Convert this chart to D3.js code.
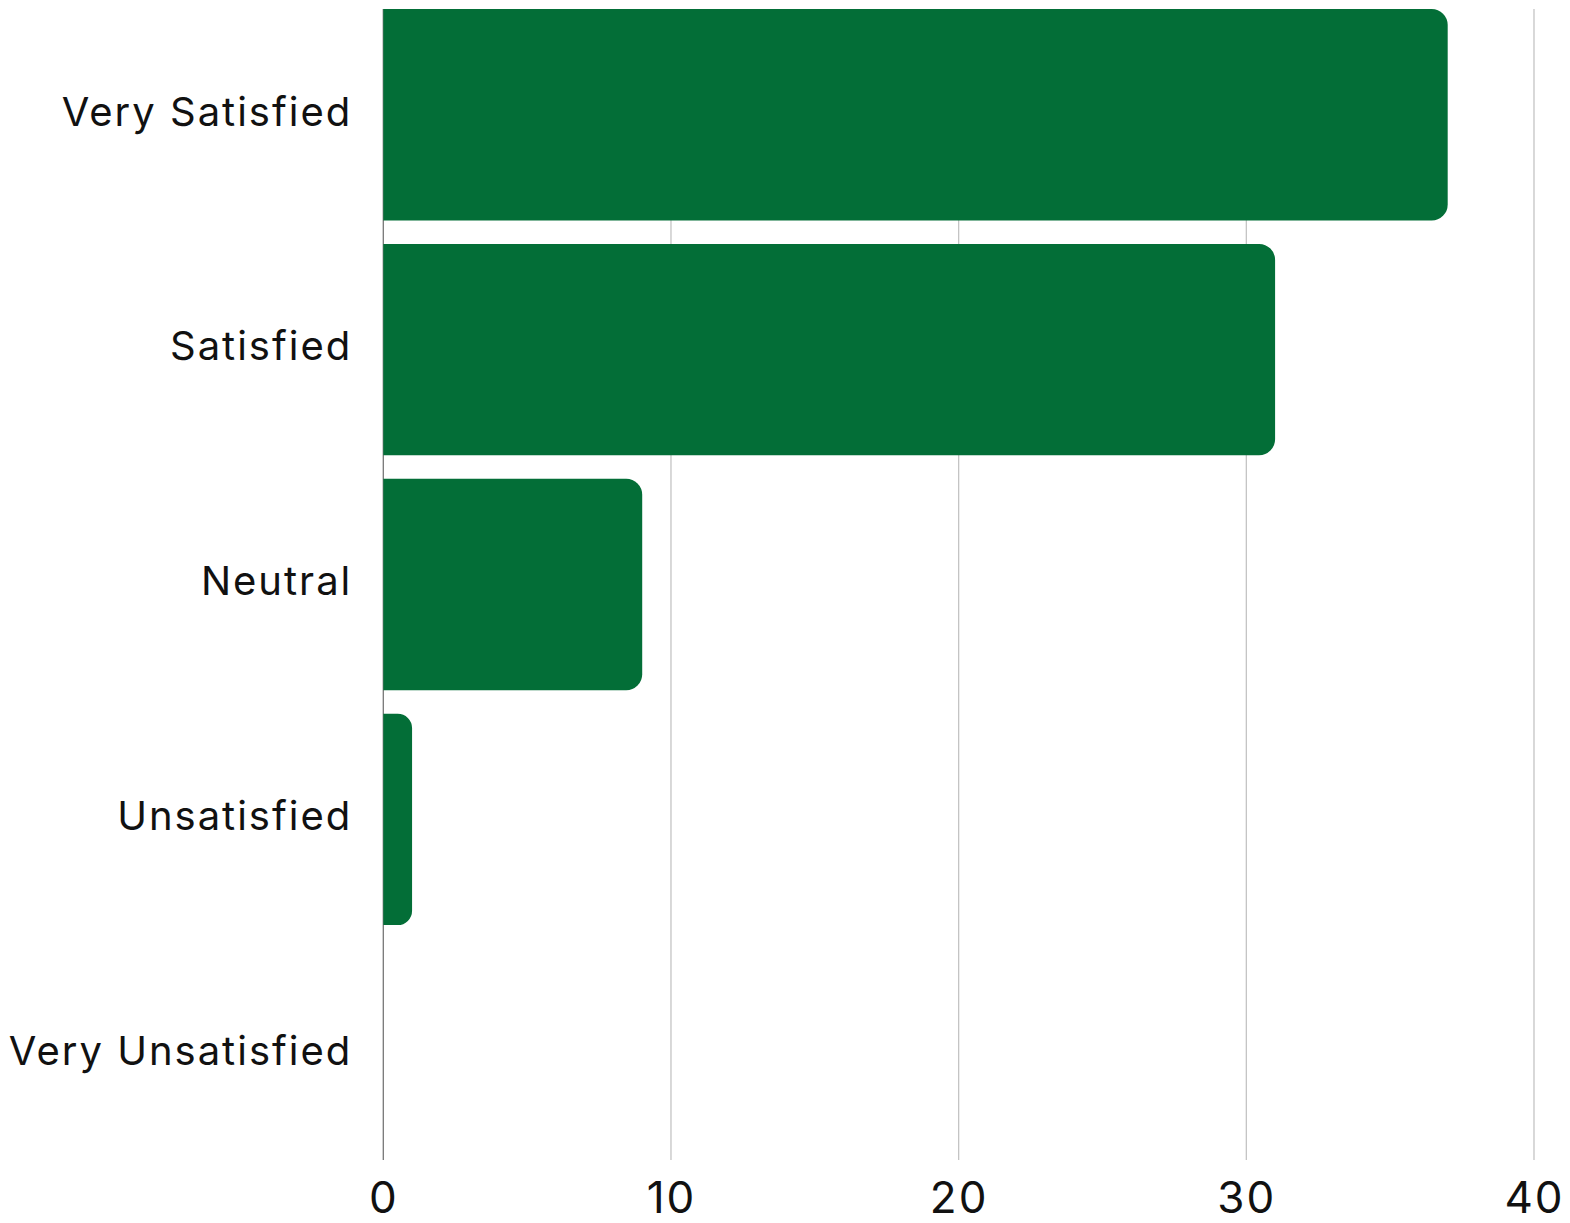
<!DOCTYPE html>
<html><head><meta charset="utf-8">
<script src="https://cdn.jsdelivr.net/npm/d3@7"></script>
<style>html,body{margin:0;padding:0;background:#fff;}svg{display:block;}</style>
</head><body>
<svg id="chart" width="1570" height="1223"></svg>
<script>
const categories = ["Very Satisfied", "Satisfied", "Neutral", "Unsatisfied", "Very Unsatisfied"];
const values = [37, 31, 9, 1, 0];
const xTicks = [0, 10, 20, 30, 40];

const svg = d3.select("#chart");
const margin = {left: 383.3, right: 36, top: 9, bottom: 63};
const W = 1570, H = 1223;
const x = d3.scaleLinear().domain([0, 40]).range([margin.left, W - margin.right]);
const y = d3.scaleBand().domain(categories).range([margin.top, H - margin.bottom]).paddingInner(0.1).paddingOuter(0);
const font = "Inter, 'Noto Sans', sans-serif";

// grid
svg.append("g").selectAll("line").data(xTicks).join("line")
  .attr("x1", d => x(d)).attr("x2", d => x(d))
  .attr("y1", margin.top).attr("y2", H - margin.bottom)
  .attr("stroke", d => d === 0 ? "#777" : "#c4c4c4").attr("stroke-width", 1.3);

// bars: square left, rounded right
const r = 16;
svg.append("g").selectAll("path").data(categories.map((c, i) => ({c, v: values[i]})).filter(d => d.v > 0)).join("path")
  .attr("fill", "#036e37")
  .attr("d", d => {
    const x0 = x(0), x1 = x(d.v), y0 = y(d.c), h = y.bandwidth();
    const rr = Math.min(r, (x1 - x0) / 2, h / 2);
    return `M${x0},${y0}H${x1 - rr}A${rr},${rr} 0 0 1 ${x1},${y0 + rr}V${y0 + h - rr}A${rr},${rr} 0 0 1 ${x1 - rr},${y0 + h}H${x0}Z`;
  });

// y axis labels
const yAxis = d3.axisLeft(y).tickSize(0).tickPadding(31);
const gy = svg.append("g").attr("transform", `translate(${margin.left},0)`).call(yAxis);
gy.select(".domain").remove();
gy.selectAll("text").attr("font-family", font).attr("font-size", 40).attr("letter-spacing", "2px")
  .attr("fill", "#111").attr("dy", "0.27em");

// x axis labels
const xAxis = d3.axisBottom(x).tickValues(xTicks).tickSize(0).tickPadding(22);
const gx = svg.append("g").attr("transform", `translate(0,${H - margin.bottom})`).call(xAxis);
gx.select(".domain").remove();
gx.selectAll("text").attr("font-family", font).attr("font-size", 44).attr("letter-spacing", "2px")
  .attr("fill", "#111");
</script>
</body></html>
